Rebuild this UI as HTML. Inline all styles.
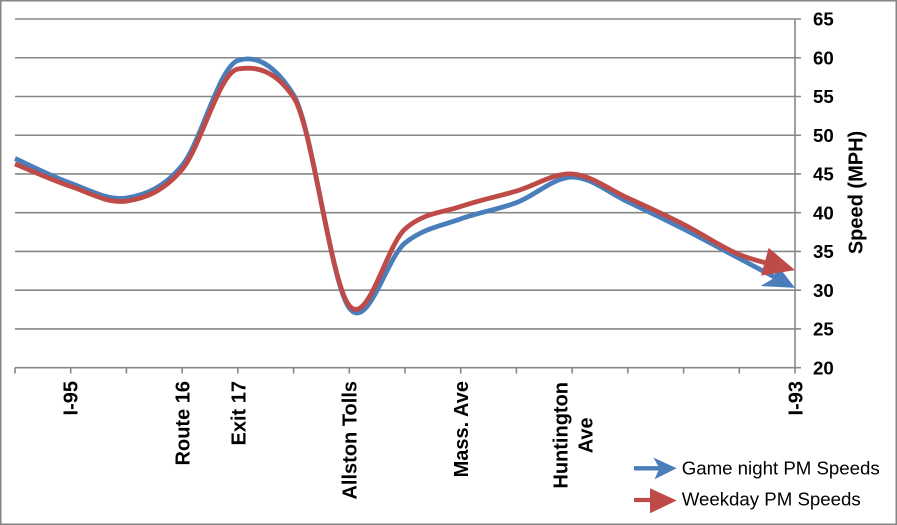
<!DOCTYPE html>
<html>
<head>
<meta charset="utf-8">
<style>
  html, body { margin: 0; padding: 0; background: #ffffff; }
  svg { display: block; font-family: "Liberation Sans", Arial, sans-serif; }
</style>
</head>
<body>
<svg width="897" height="525" viewBox="0 0 897 525" xmlns="http://www.w3.org/2000/svg">
  <defs>
    <marker id="arrBlue" markerUnits="userSpaceOnUse" markerWidth="40" markerHeight="40" refX="0" refY="0" orient="auto" overflow="visible" viewBox="-30 -15 32 30">
      <path d="M0,0 L-25,-11.5 L-18,0 L-25,11.5 Z" fill="#4A7EBB"/>
    </marker>
    <marker id="arrRed" markerUnits="userSpaceOnUse" markerWidth="40" markerHeight="40" refX="0" refY="0" orient="auto" overflow="visible" viewBox="-30 -15 32 30">
      <path d="M0,0 L-25,-11.5 L-25,11.5 Z" fill="#BE4B48"/>
    </marker>
  </defs>

  <rect x="0" y="0" width="897" height="525" fill="#ffffff"/>
  <!-- outer border -->
  <rect x="0.75" y="0.75" width="895.5" height="523.5" fill="none" stroke="#868686" stroke-width="1.5"/>

  <!-- gridlines -->
  <g stroke="#878787" stroke-width="1.6">
    <line x1="15" y1="19" x2="801" y2="19"/>
    <line x1="15" y1="57.75" x2="801" y2="57.75"/>
    <line x1="15" y1="96.5" x2="801" y2="96.5"/>
    <line x1="15" y1="135.24" x2="801" y2="135.24"/>
    <line x1="15" y1="173.98" x2="801" y2="173.98"/>
    <line x1="15" y1="212.73" x2="801" y2="212.73"/>
    <line x1="15" y1="251.47" x2="801" y2="251.47"/>
    <line x1="15" y1="290.22" x2="801" y2="290.22"/>
    <line x1="15" y1="328.96" x2="801" y2="328.96"/>
    <line x1="15" y1="367.7" x2="801" y2="367.7"/>
    <!-- right axis -->
    <line x1="795" y1="19" x2="795" y2="373.5"/>
    <!-- x ticks -->
    <line x1="15" y1="367.7" x2="15" y2="373.5"/>
    <line x1="70.71" y1="367.7" x2="70.71" y2="373.5"/>
    <line x1="126.43" y1="367.7" x2="126.43" y2="373.5"/>
    <line x1="182.14" y1="367.7" x2="182.14" y2="373.5"/>
    <line x1="237.86" y1="367.7" x2="237.86" y2="373.5"/>
    <line x1="293.57" y1="367.7" x2="293.57" y2="373.5"/>
    <line x1="349.29" y1="367.7" x2="349.29" y2="373.5"/>
    <line x1="405" y1="367.7" x2="405" y2="373.5"/>
    <line x1="460.71" y1="367.7" x2="460.71" y2="373.5"/>
    <line x1="516.43" y1="367.7" x2="516.43" y2="373.5"/>
    <line x1="572.14" y1="367.7" x2="572.14" y2="373.5"/>
    <line x1="627.86" y1="367.7" x2="627.86" y2="373.5"/>
    <line x1="683.57" y1="367.7" x2="683.57" y2="373.5"/>
    <line x1="739.29" y1="367.7" x2="739.29" y2="373.5"/>
  </g>

  <!-- Y tick labels -->
  <g font-size="18.67" font-weight="bold" fill="#000">
    <text x="813" y="25.7">65</text>
    <text x="813" y="64.45">60</text>
    <text x="813" y="103.2">55</text>
    <text x="813" y="141.94">50</text>
    <text x="813" y="180.68">45</text>
    <text x="813" y="219.43">40</text>
    <text x="813" y="258.17">35</text>
    <text x="813" y="296.92">30</text>
    <text x="813" y="335.66">25</text>
    <text x="813" y="374.4">20</text>
  </g>

  <!-- Y axis title -->
  <text transform="translate(862.5,192.5) rotate(-90)" text-anchor="middle" font-size="20" font-weight="bold" fill="#000">Speed (MPH)</text>

  <!-- X labels -->
  <g font-size="20" font-weight="bold" fill="#000" text-anchor="end">
    <text transform="translate(77.7,381) rotate(-90)">I-95</text>
    <text transform="translate(189.6,381) rotate(-90)">Route 16</text>
    <text transform="translate(245.5,381) rotate(-90)">Exit 17</text>
    <text transform="translate(356.5,381) rotate(-90)">Allston Tolls</text>
    <text transform="translate(468,381) rotate(-90)">Mass. Ave</text>
    <text transform="translate(802.3,381) rotate(-90)">I-93</text>
  </g>
  <g font-size="20" font-weight="bold" fill="#000" text-anchor="middle">
    <text transform="translate(567.3,435.3) rotate(-90)">Huntington</text>
    <text transform="translate(592.7,435.3) rotate(-90)">Ave</text>
  </g>

  <!-- Blue series -->
  <path d="M15,158.48
    C24.29,162.61 52.14,176.69 70.71,183.28
    C89.29,189.87 107.86,200.97 126.43,198.0
    C145.0,195.03 163.57,188.06 182.14,165.46
    C200.71,142.86 219.29,66.5 237.86,60.5
    C256.43,54.5 275.0,64.94 293.57,94.94
    C312.14,124.94 330.71,283.37 349.29,308.04
    C367.86,332.71 386.43,257.80 405.0,242.95
    C423.57,228.10 442.14,225.64 460.71,218.92
    C479.29,212.20 497.86,209.62 516.43,202.65
    C535.0,195.68 553.57,177.21 572.14,177.08
    C590.71,176.95 609.29,193.23 627.86,201.88
    C646.43,210.53 665.0,219.57 683.57,229.0
    C702.14,238.43 720.71,248.62 739.29,258.44
    C757.86,268.26 785.71,282.98 795,287.89"
    fill="none" stroke="#4A7EBB" stroke-width="4.8" stroke-linejoin="round"
    pathLength="1000" stroke-dasharray="990 50" marker-end="url(#arrBlue)"/>

  <!-- Red series -->
  <path d="M15,163.91
    C24.29,167.66 52.14,180.18 70.71,186.38
    C89.29,192.58 107.86,203.94 126.43,201.10
    C145.0,198.26 163.57,191.42 182.14,169.33
    C200.71,147.24 219.29,72 237.86,69
    C256.43,66 275.0,70 293.57,97.26
    C312.14,124.52 330.71,283.74 349.29,305.7
    C367.86,327.66 386.43,245.53 405.0,229.0
    C423.57,212.47 442.14,212.86 460.71,206.53
    C479.29,200.20 497.86,196.46 516.43,191.03
    C535.0,185.60 553.57,172.82 572.14,173.98
    C590.71,175.14 609.29,189.60 627.86,198.0
    C646.43,206.40 665.0,214.92 683.57,224.35
    C702.14,233.78 720.71,246.95 739.29,254.57
    C757.86,262.19 785.71,267.49 795,270.07"
    fill="none" stroke="#BE4B48" stroke-width="4.8" stroke-linejoin="round"
    pathLength="1000" stroke-dasharray="990 50" marker-end="url(#arrRed)"/>

  <!-- Legend -->
  <line x1="634" y1="468.3" x2="662" y2="468.3" stroke="#4A7EBB" stroke-width="4.3"/>
  <polygon points="676.7,468.3 653.3,457.5 659.5,468.3 654.5,479.3" fill="#4A7EBB"/>
  <text x="681.7" y="474.5" font-size="18.67" fill="#000">Game night PM Speeds</text>

  <line x1="634" y1="500" x2="652" y2="500" stroke="#BE4B48" stroke-width="4.3"/>
  <polygon points="676.7,500.5 650,488.3 650,513.3" fill="#BE4B48"/>
  <text x="681.7" y="505.5" font-size="18.67" fill="#000">Weekday PM Speeds</text>
</svg>
</body>
</html>
